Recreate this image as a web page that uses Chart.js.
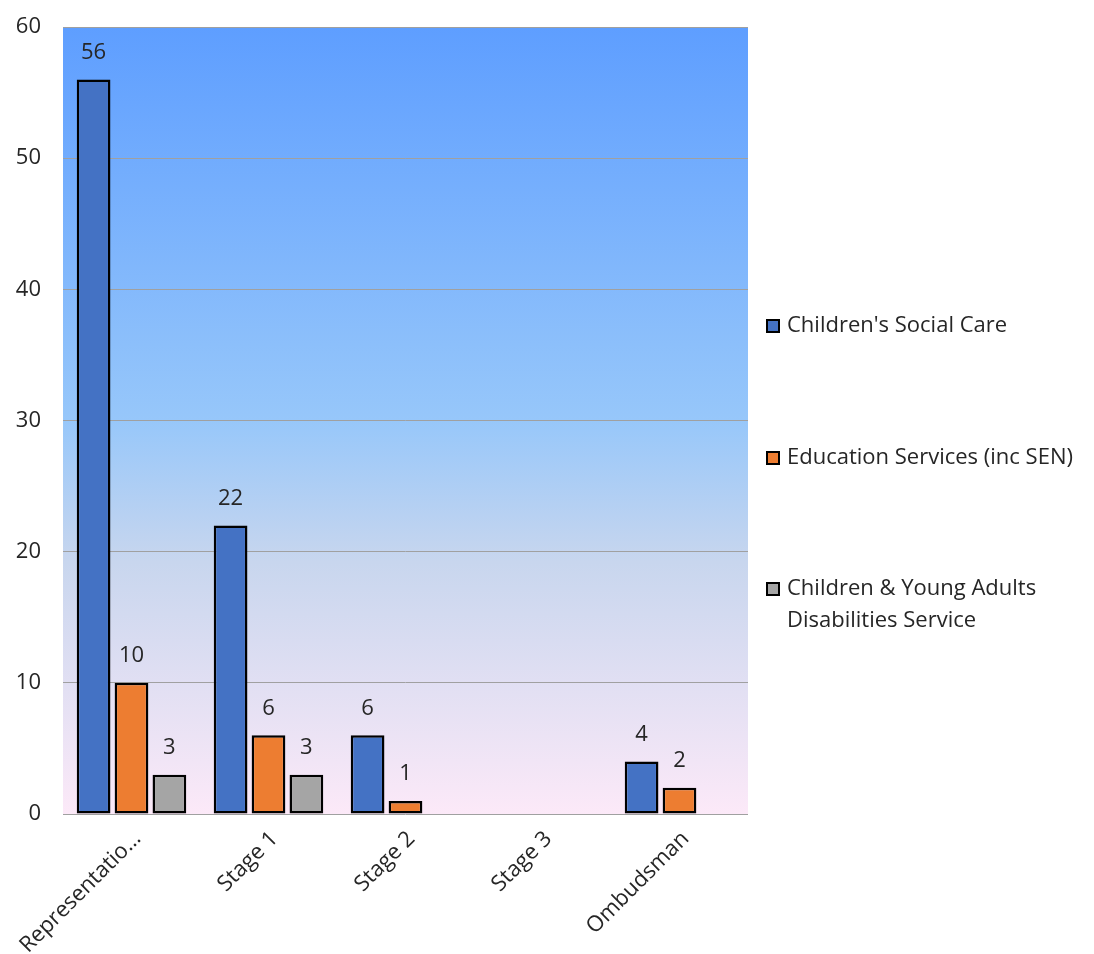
<!DOCTYPE html>
<html>
<head>
<meta charset="utf-8">
<script src="https://cdn.jsdelivr.net/npm/chart.js@4/dist/chart.umd.min.js"></script>
<style>
  html, body { margin: 0; padding: 0; background: #ffffff; }
  #wrap { width: 1094px; height: 954px; position: relative; }
</style>
</head>
<body>
<div id="wrap"><canvas id="c" width="1094" height="954"></canvas></div>
<script>
const categories = ["Representatio\u2026", "Stage 1", "Stage 2", "Stage 3", "Ombudsman"];
const seriesNames = ["Children's Social Care", "Education Services (inc SEN)", "Children & Young Adults Disabilities Service"];
const socialCare = [56, 22, 6, null, 4];
const education = [10, 6, 1, null, 2];
const disabilities = [3, 3, null, null, null];
const yTicks = [0, 10, 20, 30, 40, 50, 60];

const FONT = "'Open Sans', 'Liberation Sans', sans-serif";
const TEXT = '#262626';
const FS = 22;

const bgPlugin = {
  id: 'bg',
  beforeDraw(chart) {
    const a = chart.chartArea, ctx = chart.ctx;
    const g = ctx.createLinearGradient(0, a.top, 0, a.bottom);
    g.addColorStop(0, '#5E9EFF');
    g.addColorStop(0.5, '#97C7FA');
    g.addColorStop(0.68, '#C8D6EE');
    g.addColorStop(1, '#FCE9F8');
    ctx.save();
    ctx.fillStyle = g;
    ctx.fillRect(a.left, a.top, a.right - a.left, a.bottom - a.top);
    ctx.restore();
  }
};

const labelPlugin = {
  id: 'vals',
  afterDatasetsDraw(chart) {
    const ctx = chart.ctx;
    ctx.save();
    ctx.font = FS + 'px ' + FONT;
    ctx.fillStyle = TEXT;
    ctx.textAlign = 'center';
    ctx.textBaseline = 'middle';
    chart.data.datasets.forEach((ds, i) => {
      chart.getDatasetMeta(i).data.forEach((bar, j) => {
        const v = ds.data[j];
        if (v === null || v === undefined) return;
        ctx.fillText(String(v), bar.x, bar.y - 27);
      });
    });
    ctx.restore();
  }
};

const legendPlugin = {
  id: 'sideLegend',
  afterDraw(chart) {
    const ctx = chart.ctx;
    const items = [
      { lines: ["Children's Social Care"], y: 326 },
      { lines: ["Education Services (inc SEN)"], y: 458 },
      { lines: ["Children & Young Adults", "Disabilities Service"], y: 589 }
    ];
    ctx.save();
    ctx.font = FS + 'px ' + FONT;
    ctx.textBaseline = 'middle';
    ctx.textAlign = 'left';
    items.forEach((it, i) => {
      const ds = chart.data.datasets[i];
      ctx.fillStyle = ds.backgroundColor;
      ctx.fillRect(767, it.y - 6, 12, 12);
      ctx.strokeStyle = '#000';
      ctx.lineWidth = 2;
      ctx.strokeRect(767, it.y - 6, 12, 12);
      ctx.fillStyle = TEXT;
      it.lines.forEach((ln, k) => ctx.fillText(ln, 787, it.y + k * 32));
    });
    ctx.restore();
  }
};

new Chart(document.getElementById('c'), {
  type: 'bar',
  data: {
    labels: categories,
    datasets: [
      { label: seriesNames[0], data: socialCare, backgroundColor: '#4472C4' },
      { label: seriesNames[1], data: education, backgroundColor: '#ED7D31' },
      { label: seriesNames[2], data: disabilities, backgroundColor: '#A5A5A5' }
    ].map(d => Object.assign(d, { borderColor: '#000000', borderWidth: 2.5, borderSkipped: false,
      categoryPercentage: 0.83, barPercentage: 0.89 }))
  },
  options: {
    responsive: false,
    animation: false,
    layout: { padding: { top: 27, right: 346, left: 0, bottom: 0 } },
    plugins: { legend: { display: false }, tooltip: { enabled: false } },
    scales: {
      x: {
        grid: { display: false },
        border: { display: false },
        ticks: { color: TEXT, font: { family: FONT, size: FS }, minRotation: 45, maxRotation: 45, padding: 4, labelOffset: 6 },
        afterFit(s) { s.height = 140; s.paddingLeft = 0; s.paddingRight = 0; }
      },
      y: {
        min: 0, max: 60,
        afterBuildTicks(s) { s.ticks = yTicks.map(v => ({ value: v })); },
        grid: { color: '#A0A0A0', lineWidth: 1, drawTicks: false },
        border: { display: false },
        ticks: { color: TEXT, font: { family: FONT, size: FS }, padding: 22 },
        afterFit(s) { s.width = 63; s.paddingTop = 0; s.paddingBottom = 0; }
      }
    }
  },
  plugins: [bgPlugin, labelPlugin, legendPlugin]
});
</script>
</body>
</html>
